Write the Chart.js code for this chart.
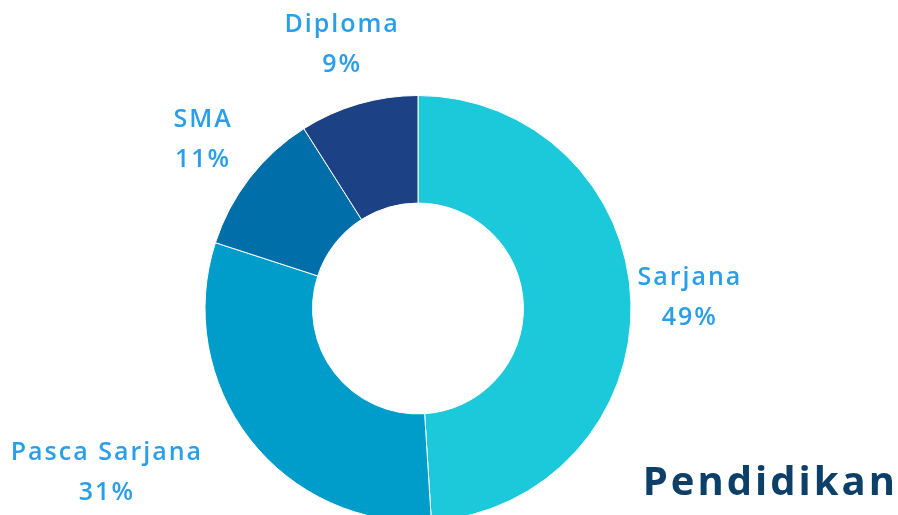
<!DOCTYPE html>
<html>
<head>
<meta charset="utf-8">
<script src="https://cdn.jsdelivr.net/npm/chart.js@4/dist/chart.umd.min.js"></script>
<style>
  html, body { margin: 0; padding: 0; background: #fff; overflow: hidden; }
  #wrap { position: relative; width: 898px; height: 540px; }
  #judul {
    position: absolute; right: 0px; top: 452px;
    font-family: 'Open Sans', sans-serif; font-weight: 700; font-size: 40px;
    color: #0d4068; letter-spacing: 3px; margin: 0;
  }
</style>
</head>
<body>
<div id="wrap">
  <canvas id="grafico-pendidikan" width="898" height="540"></canvas>
  <p id="judul">Pendidikan</p>
</div>
<script>
const kategori = ['Sarjana', 'Pasca Sarjana', 'SMA', 'Diploma'];
const persen = [49, 31, 11, 9];
const warnaSlice = ['#1bc9da', '#009dcb', '#006fa9', '#1c4185'];
const alinhamento = ['center', 'right', 'center', 'center'];

// labels outside the ring, two lines: name + percent
const labelLuar = {
  id: 'labelLuar',
  afterDraw(chart) {
    const ctx = chart.ctx;
    const meta = chart.getDatasetMeta(0);
    ctx.save();
    ctx.font = '600 25px "Open Sans", sans-serif';
    ctx.letterSpacing = '2px';
    ctx.fillStyle = '#2b9eea';
    ctx.textBaseline = 'middle';
    ctx.textAlign = 'center';
    meta.data.forEach((arc, i) => {
      const sudut = (arc.startAngle + arc.endAngle) / 2;
      const jarak = arc.outerRadius + 59;
      let x = arc.x + Math.cos(sudut) * jarak;
      const y = arc.y + Math.sin(sudut) * jarak;
      const lebar = ctx.measureText(kategori[i]).width;
      if (alinhamento[i] === 'right') x -= lebar / 2;
      ctx.fillText(kategori[i], x, y - 22);
      ctx.fillText(persen[i] + '%', x, y + 18);
    });
    ctx.restore();
  },
};

new Chart(document.getElementById('grafico-pendidikan'), {
  type: 'doughnut',
  data: {
    labels: kategori,
    datasets: [{
      data: persen,
      backgroundColor: warnaSlice,
      borderColor: '#ffffff',
      borderWidth: 1,
    }],
  },
  options: {
    responsive: false,
    animation: false,
    cutout: '49.5%',
    layout: { padding: { top: 95, bottom: 18, left: 0, right: 62 } },
    plugins: { legend: { display: false }, tooltip: { enabled: false } },
  },
  plugins: [labelLuar],
});
</script>
</body>
</html>
